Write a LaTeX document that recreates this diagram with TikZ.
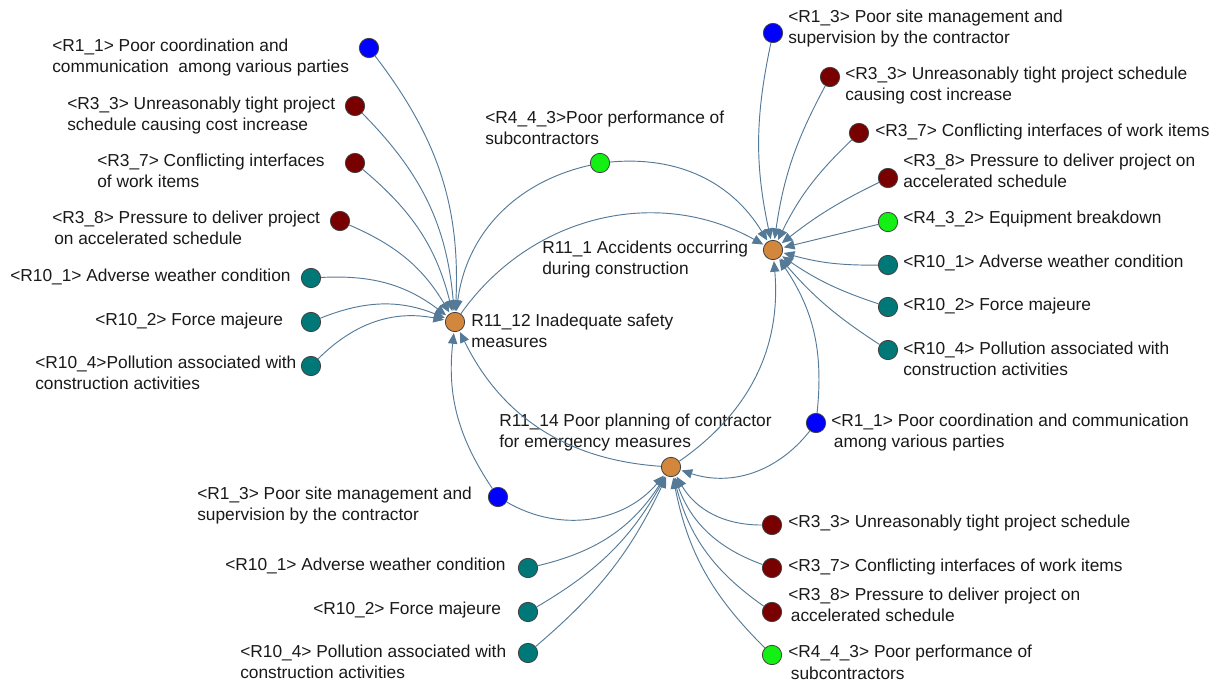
\documentclass[tikz,border=0pt]{standalone}
\usepackage{fontspec}
\setmainfont{Liberation Sans}
\usetikzlibrary{arrows.meta}
\definecolor{edgeblue}{RGB}{84,122,152}
\definecolor{nodeorange}{RGB}{210,135,60}
\definecolor{nodeblue}{RGB}{0,0,255}
\definecolor{nodered}{RGB}{120,0,0}
\definecolor{nodeteal}{RGB}{0,120,120}
\definecolor{nodegreen}{RGB}{20,240,20}
\definecolor{labeltext}{RGB}{25,25,25}

\begin{document}
\begin{tikzpicture}[x=0.75pt,y=-0.75pt,
  dot/.style={circle,draw=black!75,line width=0.6pt,minimum size=14.5pt,inner sep=0pt},
  core/.style={dot,fill=nodeorange},
  bluedot/.style={dot,fill=nodeblue},
  reddot/.style={dot,fill=nodered},
  tealdot/.style={dot,fill=nodeteal},
  greendot/.style={dot,fill=nodegreen},
  lbl/.style={anchor=north west,inner sep=0pt,align=left,text=labeltext,
              font=\fontsize{13}{16}\selectfont},
  link/.style={draw=edgeblue,line width=0.7pt,
               -{Triangle[length=8pt,width=7pt]},shorten >=0.8pt},
]
\path[use as bounding box] (0,0) rectangle (1227,684);

% central risk factors
\node[core] (A) at (455,322) {};
\node[lbl] (tA) at (471,313.5) {R11\_12 Inadequate safety\\measures};
\node[core] (B) at (773,250) {};
\node[lbl] (tB) at (542,240.5) {R11\_1 Accidents occurring\\during construction};
\node[core] (C) at (671,467) {};
\node[lbl] (tC) at (499,413.5) {R11\_14 Poor planning of contractor\\for emergency measures};

% causes of R11_12 (left)
\node[bluedot] (l1) at (369,48) {};
\node[lbl] (tl1) at (52,38.5) {<R1\_1> Poor coordination and\\communication\ \ among various parties};
\node[reddot] (l2) at (355,106) {};
\node[lbl] (tl2) at (67,96.5) {<R3\_3> Unreasonably tight project\\schedule causing cost increase};
\node[reddot] (l3) at (355,163) {};
\node[lbl] (tl3) at (97,153.5) {<R3\_7> Conflicting interfaces\\of work items};
\node[reddot] (l4) at (340,221) {};
\node[lbl] (tl4) at (52,210.5) {<R3\_8> Pressure to deliver project\\\hspace*{1.5pt}on accelerated schedule};
\node[tealdot] (l5) at (311,278) {};
\node[lbl] (tl5) at (10,268.5) {<R10\_1> Adverse weather condition};
\node[tealdot] (l6) at (311,322) {};
\node[lbl] (tl6) at (95,312.5) {<R10\_2> Force majeure};
\node[tealdot] (l7) at (311,366) {};
\node[lbl] (tl7) at (35,355.5) {<R10\_4>Pollution associated with\\construction activities};

% shared cause above
\node[greendot] (g) at (600,163) {};
\node[lbl] (tg) at (485,110.5) {<R4\_4\_3>Poor performance of\\subcontractors};

% causes of R11_1 (right)
\node[bluedot] (r1) at (773,33) {};
\node[lbl] (tr1) at (788,9.5) {<R1\_3> Poor site management and\\supervision by the contractor};
\node[reddot] (r2) at (830,77) {};
\node[lbl] (tr2) at (845,66.5) {<R3\_3> Unreasonably tight project schedule\\causing cost increase};
\node[reddot] (r3) at (859,133) {};
\node[lbl] (tr3) at (875,123.5) {<R3\_7> Conflicting interfaces of work items};
\node[reddot] (r4) at (888,178) {};
\node[lbl] (tr4) at (903,153.5) {<R3\_8> Pressure to deliver project on\\accelerated schedule};
\node[greendot] (r5) at (888,222) {};
\node[lbl] (tr5) at (903,211) {<R4\_3\_2> Equipment breakdown};
\node[tealdot] (r6) at (888,265) {};
\node[lbl] (tr6) at (903,254.5) {<R10\_1> Adverse weather condition};
\node[tealdot] (r7) at (888,307) {};
\node[lbl] (tr7) at (903,297.5) {<R10\_2> Force majeure};
\node[tealdot] (r8) at (888,350) {};
\node[lbl] (tr8) at (903,341.5) {<R10\_4> Pollution associated with\\construction activities};
\node[bluedot] (r9) at (816,423) {};
\node[lbl] (tr9) at (831,413.5) {<R1\_1> Poor coordination and communication\\\hspace*{2pt}among various parties};

% causes of R11_14 (bottom)
\node[bluedot] (b1) at (498,497) {};
\node[lbl] (tb1) at (197,486.5) {<R1\_3> Poor site management and\\supervision by the contractor};
\node[tealdot] (b2) at (528,568) {};
\node[lbl] (tb2) at (225,557.5) {<R10\_1> Adverse weather condition};
\node[tealdot] (b3) at (528,612) {};
\node[lbl] (tb3) at (313,601.5) {<R10\_2> Force majeure};
\node[tealdot] (b4) at (528,653) {};
\node[lbl] (tb4) at (240,644.5) {<R10\_4> Pollution associated with\\construction activities};
\node[reddot] (b5) at (772,525) {};
\node[lbl] (tb5) at (788,514.5) {<R3\_3> Unreasonably tight project schedule};
\node[reddot] (b6) at (772,568) {};
\node[lbl] (tb6) at (788,558.5) {<R3\_7> Conflicting interfaces of work items};
\node[reddot] (b7) at (772,612) {};
\node[lbl] (tb7) at (788,587.5) {<R3\_8> Pressure to deliver project on\\\hspace*{2pt}accelerated schedule};
\node[greendot] (b8) at (772,655) {};
\node[lbl] (tb8) at (788,645) {<R4\_4\_3> Poor performance of\\\hspace*{2pt}subcontractors};

% links into R11_12
\draw[link] (l1) to[bend left=20] (A);
\draw[link] (l2) to[bend left=20] (A);
\draw[link] (l3) to[bend left=18] (A);
\draw[link] (l4) to[bend left=18] (A);
\draw[link] (l5) to[bend left=20] (A);
\draw[link] (l6) to[bend left=22] (A);
\draw[link] (l7) to[bend left=28] (A);
\draw[link] (g) to[bend right=35] (A);
\draw[link] (b1) to[bend left=20] (A);
\draw[link] (C) to[bend left=30] (A);

% links into R11_1
\draw[link] (g) to[bend left=32] (B);
\draw[link] (A) to[bend left=42] (B);
\draw[link] (C) to[bend right=30] (B);
\draw[link] (r1) to[bend right=12] (B);
\draw[link] (r2) to[bend right=10] (B);
\draw[link] (r3) to[bend right=10] (B);
\draw[link] (r4) to[bend right=6] (B);
\draw[link] (r5) -- (B);
\draw[link] (r6) to[bend left=8] (B);
\draw[link] (r7) to[bend left=8] (B);
\draw[link] (r8) to[bend left=8] (B);
\draw[link] (r9) to[bend right=20] (B);

% links into R11_14
\draw[link] (r9) to[bend left=35] (C);
\draw[link] (b1) to[bend right=40] (C);
\draw[link] (b2) to[bend right=22] (C);
\draw[link] (b3) to[bend right=15] (C);
\draw[link] (b4) to[bend right=12] (C);
\draw[link] (b5) to[bend left=30] (C);
\draw[link] (b6) to[bend left=25] (C);
\draw[link] (b7) to[bend left=20] (C);
\draw[link] (b8) to[bend left=17] (C);
\end{tikzpicture}
\end{document}
